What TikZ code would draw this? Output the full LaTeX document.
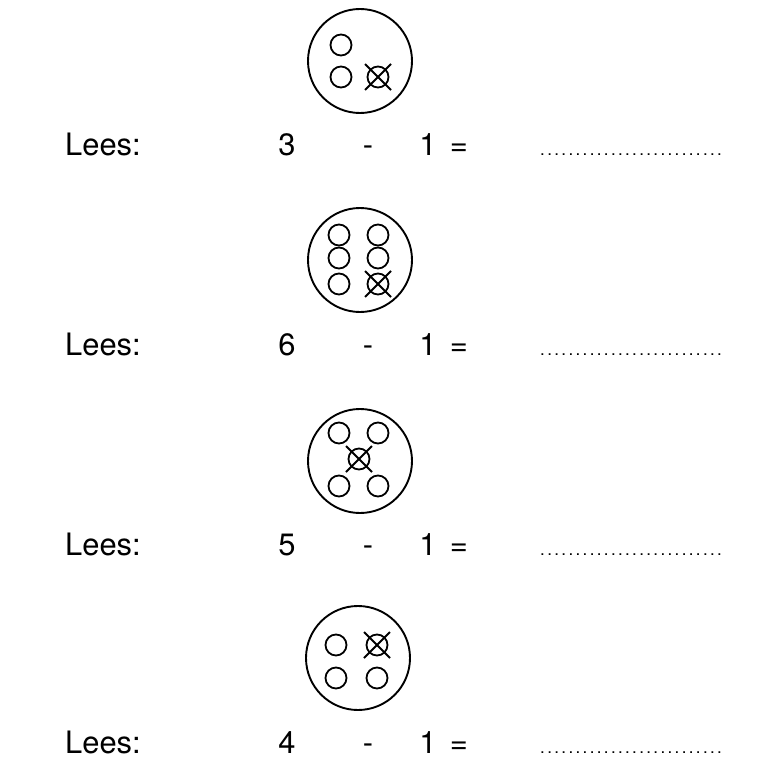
\documentclass[tikz,border=0pt]{standalone}
\usepackage{fontspec}
\setmainfont{TeX Gyre Heros}
\newfontfamily\dotfont[LetterSpace=14]{TeX Gyre Heros}
\begin{document}
\begin{tikzpicture}
        [x=1bp, y=-1bp,
         plate_style/.style={circle,draw=black,line width=1.9bp,minimum size=104bp,inner sep=0pt},
         counter_style/.style={circle,draw=black,line width=1.8bp,minimum size=21bp,inner sep=0pt},
         taken_style/.style={counter_style,append after command={
            (\tikzlastnode.center) +(-13,-13) edge[line width=1.8bp] +(13,13)
            (\tikzlastnode.center) +(-13,13) edge[line width=1.8bp] +(13,-13)}},
         text_style/.style={anchor=base,font=\fontsize{31}{36}\selectfont,inner sep=0pt},
         dots_style/.style={anchor=base west,font=\dotfont\fontsize{17}{20}\selectfont,inner sep=0pt}]
            \useasboundingbox (0,0) rectangle (764,769);
            % 3 - 1
            \node[plate_style] (p1) at (360, 61) {};
            \node[counter_style] (p1a) at (341, 45) {};
            \node[counter_style] (p1b) at (341, 77) {};
            \node[taken_style] (p1c) at (378, 77) {};
            \node[text_style,anchor=base west] (l1) at (65, 155) {Lees:};
            \node[text_style] (n1) at (287, 155) {3};
            \node[text_style] (m1) at (368, 155) {-};
            \node[text_style] (o1) at (428, 155) {1};
            \node[text_style] (e1) at (459, 155) {=};
            \node[dots_style] (d1) at (540, 155) {..........................};
            % 6 - 1
            \node[plate_style] (p2) at (360, 260) {};
            \node[counter_style] (p2a) at (339, 235) {};
            \node[counter_style] (p2b) at (378, 235) {};
            \node[counter_style] (p2c) at (339, 258) {};
            \node[counter_style] (p2d) at (378, 258) {};
            \node[counter_style] (p2e) at (339, 284) {};
            \node[taken_style] (p2f) at (378, 284) {};
            \node[text_style,anchor=base west] (l2) at (65, 355) {Lees:};
            \node[text_style] (n2) at (287, 355) {6};
            \node[text_style] (m2) at (368, 355) {-};
            \node[text_style] (o2) at (428, 355) {1};
            \node[text_style] (e2) at (459, 355) {=};
            \node[dots_style] (d2) at (540, 355) {..........................};
            % 5 - 1
            \node[plate_style] (p3) at (360, 461) {};
            \node[counter_style] (p3a) at (339, 433) {};
            \node[counter_style] (p3b) at (378, 433) {};
            \node[taken_style] (p3c) at (359, 459) {};
            \node[counter_style] (p3d) at (339, 486) {};
            \node[counter_style] (p3e) at (378, 486) {};
            \node[text_style,anchor=base west] (l3) at (65, 555) {Lees:};
            \node[text_style] (n3) at (287, 555) {5};
            \node[text_style] (m3) at (368, 555) {-};
            \node[text_style] (o3) at (428, 555) {1};
            \node[text_style] (e3) at (459, 555) {=};
            \node[dots_style] (d3) at (540, 555) {..........................};
            % 4 - 1
            \node[plate_style] (p4) at (358, 658) {};
            \node[counter_style] (p4a) at (336, 645) {};
            \node[taken_style] (p4b) at (377, 645) {};
            \node[counter_style] (p4c) at (336, 678) {};
            \node[counter_style] (p4d) at (377, 678) {};
            \node[text_style,anchor=base west] (l4) at (65, 753) {Lees:};
            \node[text_style] (n4) at (287, 753) {4};
            \node[text_style] (m4) at (368, 753) {-};
            \node[text_style] (o4) at (428, 753) {1};
            \node[text_style] (e4) at (459, 753) {=};
            \node[dots_style] (d4) at (540, 753) {..........................};
        \end{tikzpicture}
\end{document}
